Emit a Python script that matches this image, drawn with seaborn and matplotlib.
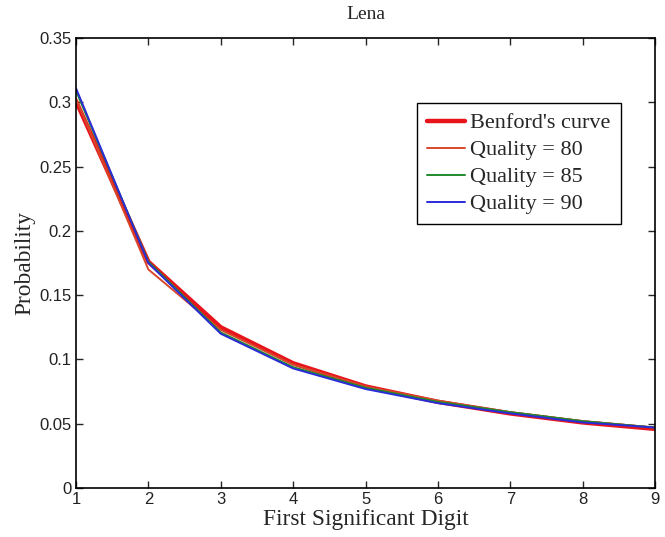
import matplotlib
matplotlib.use("Agg")
import matplotlib.pyplot as plt
import seaborn as sns
import pandas as pd

digits = [1, 2, 3, 4, 5, 6, 7, 8, 9]
benford = [0.301, 0.176, 0.125, 0.097, 0.079, 0.067, 0.058, 0.051, 0.046]
q80 = [0.303, 0.170, 0.123, 0.096, 0.079, 0.068, 0.059, 0.052, 0.047]
q85 = [0.309, 0.176, 0.121, 0.094, 0.078, 0.067, 0.059, 0.052, 0.047]
q90 = [0.311, 0.175, 0.120, 0.093, 0.077, 0.066, 0.058, 0.051, 0.047]
series_names = ["Benford's curve", "Quality = 80", "Quality = 85", "Quality = 90"]
xticks = [1, 2, 3, 4, 5, 6, 7, 8, 9]
yticks = [0, 0.05, 0.1, 0.15, 0.2, 0.25, 0.3, 0.35]
ytick_labels = ["0", "0.05", "0.1", "0.15", "0.2", "0.25", "0.3", "0.35"]

sns.set_style("ticks")
plt.rcParams['font.family'] = ['Liberation Sans', 'DejaVu Sans']

fig = plt.figure(figsize=(6.65, 5.37), dpi=100)
ax = fig.add_axes([0.1143, 0.0913, 0.8707, 0.8377])

colors = ["#e8141c", "#d9472a", "#1f8a2a", "#2b2bd9"]
widths = [3.2, 1.4, 1.4, 1.4]
for name, vals, c, w in zip(series_names, [benford, q80, q85, q90], colors, widths):
    df = pd.DataFrame({"d": digits, "p": vals})
    sns.lineplot(data=df, x="d", y="p", ax=ax, color=c, linewidth=w, label=name)

ax.set_xlim(1, 9)
ax.set_ylim(0, 0.35)
ax.set_xticks(xticks)
ax.set_yticks(yticks)
ax.set_yticklabels(ytick_labels)
ax.tick_params(direction="in", length=5, width=1, labelsize=12, top=True, right=True,
               labeltop=False, labelright=False, pad=3, labelcolor="#222222")
for s in ax.spines.values():
    s.set_visible(True)
    s.set_linewidth(1.2)
    s.set_color("black")

serif = ['Liberation Serif', 'DejaVu Serif']
ax.set_xlabel("First Significant Digit", fontsize=16.8, family=serif, labelpad=1)
ax.set_ylabel("Probability", fontsize=16.8, family=serif, labelpad=3)
ax.set_title("Lena", fontsize=14, family=serif, pad=14)

leg = ax.legend(loc="upper right", bbox_to_anchor=(0.941, 0.856), prop={'family': serif, 'size': 16},
                frameon=True, fancybox=False, edgecolor="black", framealpha=1,
                handlelength=1.7, handletextpad=0.25, borderpad=0.45, labelspacing=0.29, borderaxespad=0)
leg.get_frame().set_linewidth(1.0)

fig.savefig("out.png", dpi=100)
